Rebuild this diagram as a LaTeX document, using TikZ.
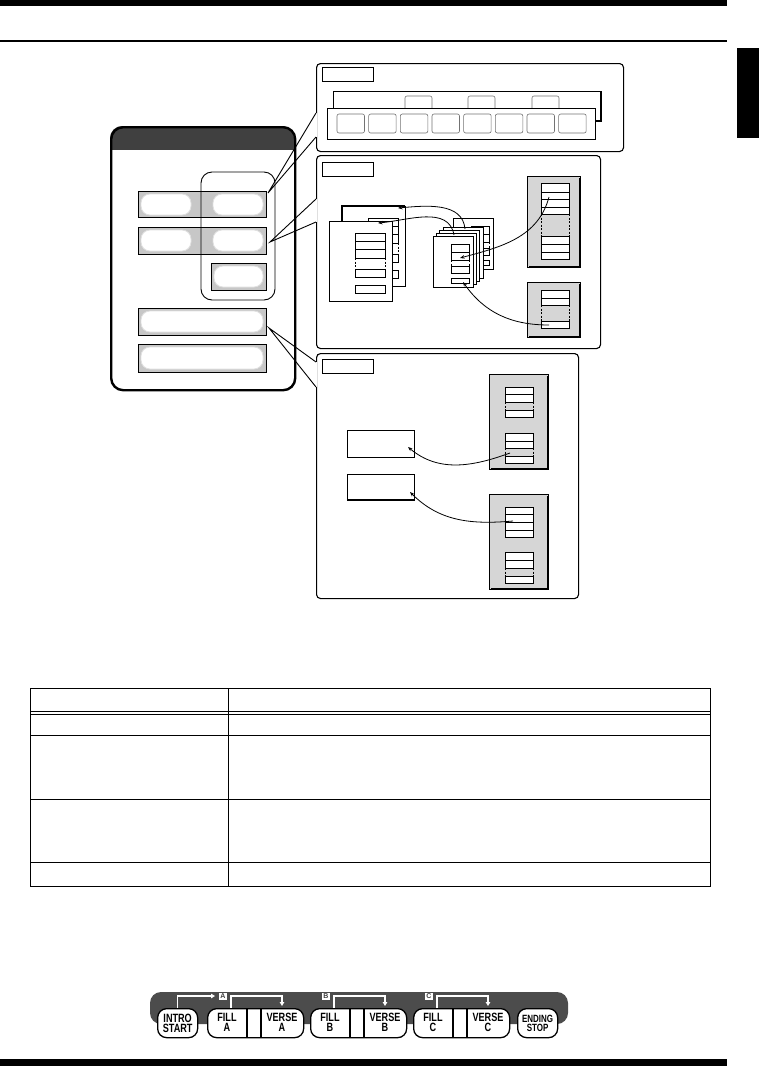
\documentclass[tikz,border=0pt]{standalone}
\usepackage{fontspec}
\setsansfont{Liberation Sans}
\usepackage{graphicx}
\usetikzlibrary{arrows.meta, positioning}
\newcommand{\cellcol}[5]{%
  \draw[slot] (#1,#3) rectangle (#2,#5);
  \foreach \yy in {#4} {\draw[thinline] (#1,\yy) -- (#2,\yy);}}
\newcommand{\gapcol}[4]{%
  \draw[gapline] (#1,#3) -- (#1,#4) (#2,#3) -- (#2,#4);}
\newcommand{\leftpage}{%
  \draw[sheet] (329,221) rectangle (392,301);
  \cellcol{355}{385}{233}{241,249}{258}
  \gapcol{355}{385}{258}{269}
  \draw[slot] (355,269) rectangle (385,277);
  \draw[slot] (355,285) rectangle (385,293);}
\newcommand{\midpage}{%
  \draw[sheet] (433,236) rectangle (473,287);
  \cellcol{451}{469}{244}{252}{260}
  \gapcol{451}{469}{260}{266}
  \draw[slot] (451,266) rectangle (469,273);
  \draw[slot] (451,278) rectangle (469,283);}
\newcommand{\shadebox}[4]{%
  \draw[graybox] (#1,#2) rectangle (#3,#4);
  \draw[line width=1.6pt] (#3,#2+2) -- (#3,#4) -- (#1+2,#4);}
\newcommand{\narrow}[1]{\scalebox{0.76}[1]{#1}}
\begin{document}
\begin{tikzpicture}[x=1pt, y=-1pt,
    panel/.style={draw, line width=1.1pt, rounded corners=4pt, fill=white, inner sep=0pt, anchor=north west},
    tagbox/.style={draw, line width=0.7pt, minimum width=51pt, minimum height=14pt, inner sep=0pt, anchor=north west},
    graybox/.style={draw, line width=0.6pt, fill=black!16},
    sheet/.style={draw, line width=0.6pt, fill=white},
    slot/.style={draw, line width=0.6pt, fill=white},
    thinline/.style={line width=0.6pt},
    gapline/.style={line width=0.6pt, dash pattern=on 2pt off 1.5pt},
    btnrow/.style={draw, line width=0.8pt, fill=black!22},
    pill/.style={draw=black!12, line width=0.8pt, fill=white, rounded corners=9pt},
    padkey/.style={draw=black!55, line width=0.6pt, fill=white, rounded corners=2pt},
    wedgeline/.style={line width=0.9pt},
    flow/.style={-{Stealth[length=4.5pt, width=3.5pt]}, line width=0.8pt},
    tabline/.style={line width=1pt},
    btn/.style={draw, line width=1.3pt, fill=white, rounded corners=9pt, inner sep=0pt, minimum height=29pt, anchor=north west},
    btntext/.style={font=\sffamily\bfseries\fontsize{12}{10}\selectfont, align=center, inner sep=0pt},
    keytag/.style={draw=black!70, fill=white, line width=0.5pt, inner sep=0pt, minimum width=9pt, minimum height=8pt,
                   font=\sffamily\bfseries\fontsize{7}{7}\selectfont, text=black!75},
    guide/.style={draw=white, line width=1.2pt, -{Triangle[length=4pt, width=4.5pt]}},
]
\useasboundingbox (0,0) rectangle (759,1066);

\fill (0,0) rectangle (727,6);
\draw[line width=2pt] (0,41) -- (727,41);
\fill (737,48) rectangle (759,138);
\fill (0,1059) rectangle (727,1066);

\begin{scope}
  \clip[rounded corners=12pt] (110,126) rectangle (294,389);
  \fill[black!75] (110,126) rectangle (294,150);
\end{scope}
\node[draw, line width=2.4pt, rounded corners=12pt, inner sep=0pt, minimum width=184pt, minimum height=263pt,
      anchor=north west] (cp) at (110,126) {};
\draw[btnrow] (138,191) rectangle (266,217);
\draw[pill] (141,194) rectangle (191,215);
\draw[pill] (213,194) rectangle (263,215);
\draw[btnrow] (138,227) rectangle (266,254);
\draw[pill] (141,230) rectangle (191,251);
\draw[pill] (213,230) rectangle (263,251);
\draw[btnrow] (211,263) rectangle (266,290);
\draw[pill] (214,266) rectangle (263,287);
\draw[btnrow] (138,308) rectangle (266,335);
\draw[pill] (141,311) rectangle (263,332);
\draw[btnrow] (138,344) rectangle (266,372);
\draw[pill] (141,347) rectangle (263,369);
\draw[line width=0.9pt, rounded corners=11pt] (201,172) rectangle (275,300);

\node[panel, minimum width=307pt, minimum height=88pt] (pa) at (316,63) {};
\node[panel, minimum width=284pt, minimum height=193pt] (pb) at (316,155) {};
\node[panel, minimum width=262pt, minimum height=245pt] (pc) at (316,353) {};
\node[tagbox] (lbla) at (322,67) {};
\node[tagbox] (lblb) at (322,162) {};
\node[tagbox] (lblc) at (322,359) {};

\coordinate (ta) at (268,193);
\coordinate (a1) at (316,113);
\coordinate (a2) at (316,137);
\coordinate (tb) at (270,242);
\coordinate (b1) at (316,199);
\coordinate (b2) at (316,222);
\coordinate (tc) at (269,328);
\coordinate (c1) at (316,362);
\coordinate (c2) at (316,387);
\draw[white, line width=2.4pt] (a1) -- (a2) (b1) -- (b2) (c1) -- (c2);
\draw[wedgeline] (a1) -- (ta) -- (a2);
\draw[wedgeline] (b1) -- (tb) -- (b2);
\draw[wedgeline] (c1) -- (tc) -- (c2);

\draw[line width=0.7pt, fill=white] (333,91) rectangle (601,121);
\draw[line width=1.5pt] (601,92) -- (601,121) -- (595,121);
\foreach \x in {405,468,532} {\draw[padkey] (\x,96) rectangle (\x+27,112);}
\draw[line width=0.7pt, fill=white] (327,108) rectangle (595,139);
\foreach \i in {0,...,7} {\draw[padkey] ({337+31.67*\i},114) rectangle ({364.5+31.67*\i},133);}

\shadebox{527}{176}{580}{267}
\cellcol{541}{569}{183}{192,199,207}{214}
\gapcol{541}{569}{214}{236}
\cellcol{541}{569}{236}{244,252}{259}
\shadebox{527}{282}{580}{337}
\cellcol{541}{569}{290}{298}{305}
\gapcol{541}{569}{305}{321}
\draw[slot] (541,321) rectangle (569,328);

\begin{scope}[shift={(13,-15)}]
  \leftpage
\end{scope}
\draw[line width=1.6pt] (342,236) -- (342,206) -- (405,206);
\leftpage

\begin{scope}[shift={(20,-18)}]
  \midpage
\end{scope}
\foreach \k in {3,2,1} {
  \begin{scope}[shift={(3.3*\k,-3*\k)}]
    \midpage
  \end{scope}
}
\midpage

\coordinate (m1) at (465,229);
\coordinate (l1) at (398,208);
\coordinate (m2) at (454,235);
\coordinate (l2) at (378,223);
\coordinate (r1) at (549,197);
\coordinate (f1) at (460,258);
\coordinate (r2) at (549,325);
\coordinate (f2) at (463,282);
\draw[flow] (m1) to[out=95, in=5] (l1);
\draw[flow] (m2) to[out=100, in=5] (l2);
\draw[flow] (r1) to[out=-105, in=15] (f1);
\draw[flow] (r2) to[out=180, in=-55] (f2);

\draw[sheet] (347,430) rectangle (414,457);
\draw[sheet] (347,474) rectangle (414,500);
\draw[line width=1.5pt] (347,500) -- (414,500);
\shadebox{489}{374}{548}{469}
\cellcol{505}{533}{387}{394}{402}
\gapcol{505}{533}{402}{410}
\draw[slot] (505,410) rectangle (533,417);
\cellcol{505}{533}{433}{441}{448}
\gapcol{505}{533}{448}{456}
\draw[slot] (505,456) rectangle (533,463);
\shadebox{489}{494}{548}{589}
\cellcol{505}{533}{507}{514,522,530}{537}
\cellcol{505}{533}{552}{560}{568}
\gapcol{505}{533}{568}{576}
\draw[slot] (505,576) rectangle (533,583);

\coordinate (g1) at (510,453);
\coordinate (s1) at (408,447);
\coordinate (g2) at (513,521);
\coordinate (s2) at (410,492);
\draw[flow] (g1) to[out=200, in=-40] (s1);
\draw[flow] (g2) to[out=185, in=-45] (s2);

\draw[tabline] (30,688) rectangle (710,886);
\foreach \yy in {711,714,735,799,862} {\draw[tabline] (30,\yy) -- (710,\yy);}
\draw[tabline] (228,688) -- (228,886);

\fill[black!70, rounded corners=11pt] (150,992) rectangle (568,1024);
\node[btn, minimum width=40pt] (st) at (157,1008) {};
\node[btntext] at (st) {\narrow{INTRO}\\\narrow{START}};
\coordinate (sa) at (215,996);
\draw[guide] (st.north) |- (sa);
\foreach \x/\k in {207/A, 310/B, 413/C} {
  \node[btn, minimum width=96pt] (g\k) at (\x,1008) {};
  \draw[line width=1.3pt] (\x+40,1008) -- (\x+40,1037) (\x+54,1008) -- (\x+54,1037);
  \node[btntext] at (\x+20,1022.5) {\narrow{FILL}\\\narrow{\k}};
  \node[btntext] at (\x+75,1022.5) {\narrow{VERSE}\\\narrow{\k}};
  \node[keytag] (k\k) at (\x+16,996) {\k};
  \draw[guide] (\x+24,1008) |- (\x+75,996) -- (\x+75,1006);
}
\node[btn, minimum width=40pt] (en) at (517,1008) {};
\node[btntext, font=\sffamily\bfseries\fontsize{10.5}{9}\selectfont] at (en) {\narrow{ENDING}\\\narrow{STOP}};

\end{tikzpicture}
\end{document}
